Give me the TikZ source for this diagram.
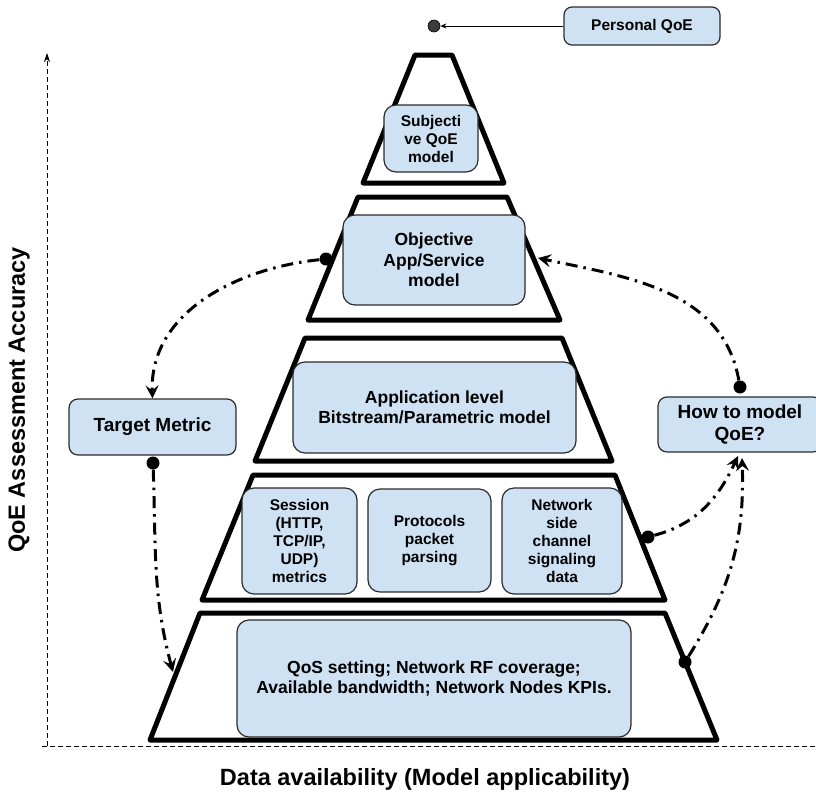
\documentclass[tikz,border=0pt]{standalone}
\usepackage{fontspec}
\setmainfont{Liberation Sans}
\usetikzlibrary{arrows.meta}
\definecolor{boxfill}{HTML}{CFE2F3}
\definecolor{boxline}{HTML}{2B2B2B}
\definecolor{pdotfill}{HTML}{3C3C3C}

\tikzset{
  x=1pt, y=1pt,
  layer/.style={draw=black, line width=5pt, fill=white, line join=round},
  infobox/.style={draw=boxline, line width=1.2pt, fill=boxfill, rounded corners=12pt,
    align=center, inner sep=0pt, text=black},
  smalltext/.style={font=\bfseries\fontsize{15.5}{18}\selectfont},
  midtext/.style={font=\bfseries\fontsize{17.5}{20.5}\selectfont},
  bigtext/.style={font=\bfseries\fontsize{19}{21.5}\selectfont},
  axislabel/.style={font=\bfseries\fontsize{23.5}{26}\selectfont},
  axis/.style={line width=0.9pt, dash pattern=on 5pt off 3pt},
  dot/.style={circle, fill=black, inner sep=0pt, minimum size=13pt},
  flow/.style={line width=3pt, dash pattern=on 12pt off 6pt on 2.5pt off 6pt,
    -{Stealth[length=13pt, width=13pt, inset=5pt]}},
}

\begin{document}
\begin{tikzpicture}
\useasboundingbox (0,0) rectangle (816,-798);
\clip (0,0) rectangle (816,-798);

% axes
\coordinate (origin) at (47,-746);
\coordinate (ytop) at (47,-53);
\coordinate (xleft) at (42,-746);
\coordinate (xright) at (817,-746);
\draw[axis, -{Stealth[length=9pt, width=6pt]}] (origin) -- (ytop);
\draw[axis] (xleft) -- (xright);
\node[axislabel, rotate=90] (ylab) at (19,-400) {QoE Assessment Accuracy};
\node[axislabel] (xlab) at (425,-779) {Data availability (Model applicability)};

% pyramid layers
\draw[layer] (415,-55) -- (452,-55) -- (504,-183) -- (363,-183) -- cycle;
\draw[layer] (358,-197) -- (507,-197) -- (560,-320) -- (308,-320) -- cycle;
\draw[layer] (305,-338) -- (562,-338) -- (612,-461) -- (255,-461) -- cycle;
\draw[layer] (253,-475) -- (615,-475) -- (665,-600) -- (202,-600) -- cycle;
\draw[layer] (200,-613) -- (665,-613) -- (717,-740) -- (150,-740) -- cycle;

% boxes
\node[infobox, smalltext, rounded corners=8pt, minimum width=156pt, minimum height=38pt] (pq) at (642,-26) {Personal QoE};
\node[infobox, smalltext, minimum width=94pt, minimum height=67pt] (subj) at (431,-138.5) {Subjecti\\ve QoE\\model};
\node[infobox, midtext, minimum width=182pt, minimum height=90pt] (obj) at (434,-260) {Objective\\App/Service\\model};
\node[infobox, midtext, minimum width=283pt, minimum height=91pt] (app) at (434.5,-407.5) {Application level\\Bitstream/Parametric model};
\node[infobox, smalltext, minimum width=115pt, minimum height=106pt] (sess) at (299.5,-541) {Session\\(HTTP,\\TCP/IP,\\UDP)\\metrics};
\node[infobox, smalltext, minimum width=123pt, minimum height=103pt] (prot) at (429.5,-540.5) {Protocols\\packet\\parsing};
\node[infobox, smalltext, minimum width=120pt, minimum height=106pt] (net) at (562,-541) {Network\\side\\channel\\signaling\\data};
\node[infobox, midtext, minimum width=394pt, minimum height=117pt] (qos) at (434,-678.5) {QoS setting; Network RF coverage;\\Available bandwidth; Network Nodes KPIs.};
\node[infobox, bigtext, rounded corners=9pt, minimum width=167pt, minimum height=56pt] (tm) at (152.5,-427) {Target Metric};
\node[infobox, bigtext, rounded corners=9pt, minimum width=164pt, minimum height=55pt] (how) at (740,-424.5) {How to model\\QoE?};

% personal QoE marker
\node[circle, fill=pdotfill, draw=black, line width=0.6pt, inner sep=0pt, minimum size=12pt] (pdot) at (434,-26) {};
\draw[line width=1pt, -{Stealth[length=6pt, width=5pt]}] (pq.west) -- (pdot);

% connector ends
\node[dot] (d1) at (326,-259) {};
\node[dot] (d2) at (153,-463) {};
\node[dot] (d3) at (740,-387) {};
\node[dot] (d4) at (648,-537) {};
\node[dot] (d5) at (685,-662) {};
\coordinate (a2) at (173,-672);
\coordinate (a3) at (538,-258);
\coordinate (a4) at (738,-456);
\coordinate (a5) at (742,-458);

% dash-dot connectors
\draw[flow] (d1) to[out=186, in=92] (tm.north);
\draw[flow] (d2) to[out=-88, in=105] (a2);
\draw[flow] (d3) to[out=100, in=-12] (a3);
\draw[flow] (d4) to[out=15, in=-115] (a4);
\draw[flow] (d5) to[out=58, in=-88] (a5);
\end{tikzpicture}
\end{document}
